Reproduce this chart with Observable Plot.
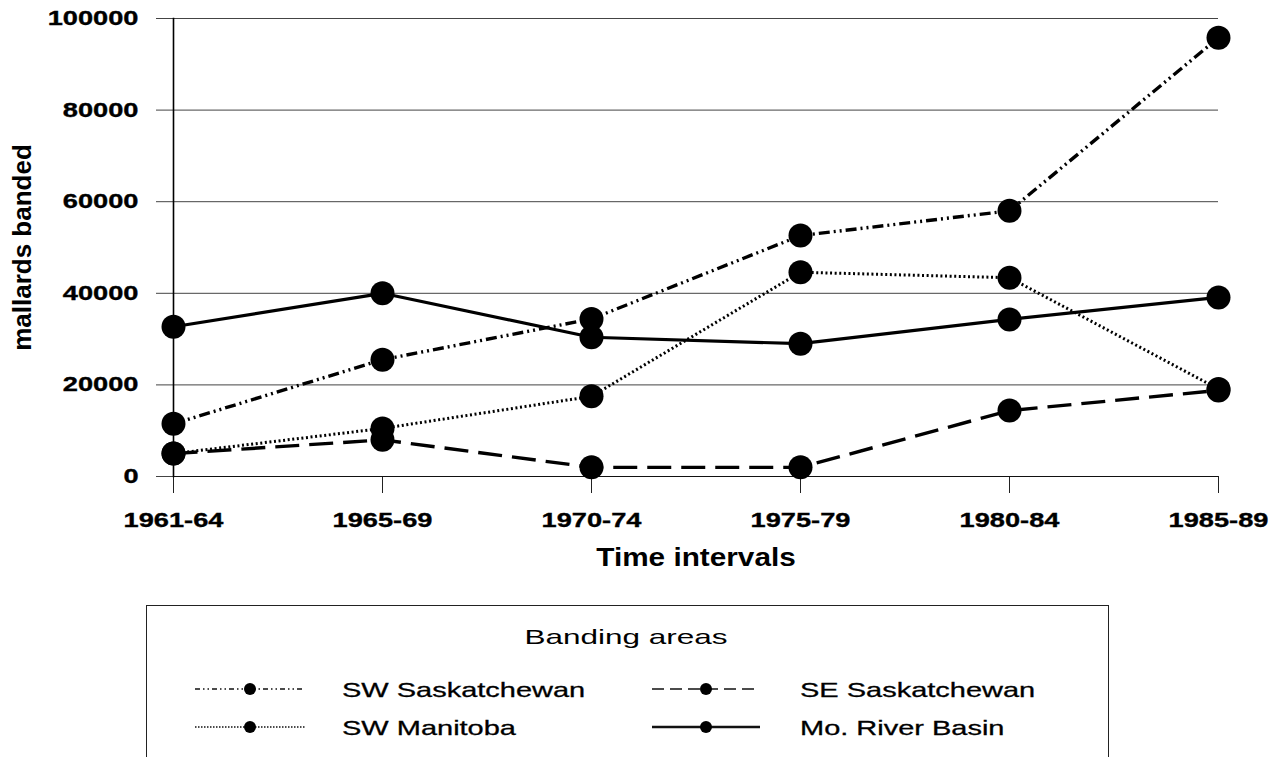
<!DOCTYPE html>
<html>
<head>
<meta charset="utf-8">
<script src="https://cdn.jsdelivr.net/npm/d3@7"></script>
<script src="https://cdn.jsdelivr.net/npm/@observablehq/plot@0.6"></script>
<style>
  html, body { margin: 0; padding: 0; background: #fff; }
  svg { display: block; }
</style>
</head>
<body>
<div id="chart"></div>
<div id="legend"></div>
<script>
// ---- data ----
const periods = ["1961-64", "1965-69", "1970-74", "1975-79", "1980-84", "1985-89"];
const yTicks = [0, 20000, 40000, 60000, 80000, 100000];
const seriesNames = ["SW Saskatchewan", "SE Saskatchewan", "SW Manitoba", "Mo. River Basin"];
const swSaskatchewan = [11500, 25500, 34400, 52600, 58000, 95800];
const seSaskatchewan = [5000, 8000, 2000, 2000, 14400, 18800];
const swManitoba = [5000, 10500, 17500, 44600, 43400, 19100];
const moRiverBasin = [32700, 40000, 30400, 29000, 34300, 39100];
const xTitle = "Time intervals";
const yTitle = "mallards banded";
const legendTitle = "Banding areas";

// ---- styles (kept apart from data) ----
const lineStyle = {
  "SW Saskatchewan": {dash: "11,4,2,4,2,4", width: 3.4},
  "SE Saskatchewan": {dash: "24,10", width: 3.4},
  "SW Manitoba": {dash: "2,2.6", width: 3},
  "Mo. River Basin": {dash: null, width: 3.2}
};
const legendStyle = {
  "SW Saskatchewan": {dash: "5,3,1.5,3,1.5,3", width: 1.6},
  "SE Saskatchewan": {dash: "12,6", width: 1.6},
  "SW Manitoba": {dash: "1.5,1.5", width: 1.6},
  "Mo. River Basin": {dash: null, width: 2.4}
};

const seriesValues = [swSaskatchewan, seSaskatchewan, swManitoba, moRiverBasin];
const table = seriesNames.map((name, s) =>
  periods.map((p, i) => ({series: name, period: p, value: seriesValues[s][i]})));

const lineMarks = table.map((rows, s) => {
  const st = lineStyle[seriesNames[s]];
  return Plot.line(rows, {
    x: "period", y: "value", stroke: "#000", strokeWidth: st.width,
    strokeDasharray: st.dash ?? undefined, strokeLinecap: "butt", strokeLinejoin: "round"
  });
});
const dotMarks = table.map(rows =>
  Plot.dot(rows, {x: "period", y: "value", r: 12, fill: "#000", stroke: "none"}));

const plot = Plot.plot({
  width: 1283,
  height: 600,
  marginLeft: 173,
  marginRight: 65,
  marginTop: 18,
  marginBottom: 124,
  style: {
    fontFamily: "'Liberation Sans', Arial, Helvetica, sans-serif",
    fontSize: "20px",
    fontWeight: "bold",
    color: "#000",
    background: "#fff",
    overflow: "visible"
  },
  x: {type: "point", domain: periods, padding: 0},
  y: {domain: [0, 100000]},
  marks: [
    Plot.gridY(yTicks.filter(d => d > 0), {stroke: "#444", strokeOpacity: 1, strokeWidth: 1}),
    Plot.axisY({ticks: yTicks, tickSize: 17, tickPadding: 18, tickFormat: d3.format("d"),
      label: null, stroke: "#444", strokeOpacity: 1}),
    Plot.axisX({tickSize: 17, tickPadding: 19, label: null, stroke: "#222", strokeOpacity: 1}),
    Plot.ruleY([0], {stroke: "#111", strokeWidth: 1.2}),
    Plot.frame({anchor: "left", stroke: "#000", strokeWidth: 1.6}),
    ...lineMarks,
    ...dotMarks,
    Plot.text([xTitle], {frameAnchor: "bottom", dy: 81, lineAnchor: "middle", textAnchor: "middle",
      fontSize: 25, fontWeight: "bold"}),
    Plot.text([yTitle], {frameAnchor: "left", dx: -151, rotate: -90, textAnchor: "middle",
      lineAnchor: "middle", fontSize: 26, fontWeight: "bold"})
  ]
});
document.getElementById("chart").appendChild(plot);

// stretch horizontal text to match the wide lettering of the reference
plot.querySelectorAll("text").forEach(t => {
  const s = t.textContent.trim();
  if (/^[0-9]/.test(s)) {
    const w = t.getComputedTextLength();
    t.setAttribute("textLength", (w * 1.36).toFixed(1));
    t.setAttribute("lengthAdjust", "spacingAndGlyphs");
    t.setAttribute("stroke", "#000");
    t.setAttribute("stroke-width", "0.35");
  } else if (s === xTitle) {
    const w = t.getComputedTextLength();
    t.setAttribute("textLength", (w * 1.19).toFixed(1));
    t.setAttribute("lengthAdjust", "spacingAndGlyphs");
  }
});

// ---- legend (below the plot) ----
const lg = d3.select("#legend").append("svg")
  .attr("width", 1283).attr("height", 157)
  .style("font-family", "'Liberation Sans', Arial, Helvetica, sans-serif");
lg.append("rect").attr("x", 146.5).attr("y", 5.5).attr("width", 962).attr("height", 220)
  .attr("fill", "none").attr("stroke", "#222").attr("stroke-width", 1);
const title = lg.append("text").attr("x", 626).attr("y", 36).attr("text-anchor", "middle")
  .attr("dominant-baseline", "central").attr("font-size", 21).text(legendTitle);
title.attr("textLength", (title.node().getComputedTextLength() * 1.5).toFixed(1))
  .attr("lengthAdjust", "spacingAndGlyphs");

const slots = [
  {col: 0, row: 0}, {col: 1, row: 0}, {col: 0, row: 1}, {col: 1, row: 1}
];
const colX = [{x0: 195, x1: 305, tx: 342}, {x0: 652, x1: 760, tx: 800}];
const rowY = [89, 127];
seriesNames.forEach((name, i) => {
  const c = colX[slots[i].col], y = rowY[slots[i].row];
  const st = legendStyle[name];
  lg.append("line").attr("x1", c.x0).attr("x2", c.x1).attr("y1", y).attr("y2", y)
    .attr("stroke", "#111").attr("stroke-width", st.width)
    .attr("stroke-dasharray", st.dash);
  lg.append("circle").attr("cx", (c.x0 + c.x1) / 2).attr("cy", y).attr("r", 6).attr("fill", "#000");
  const t = lg.append("text").attr("x", c.tx).attr("y", y).attr("dominant-baseline", "central")
    .attr("font-size", 21).attr("stroke", "#000").attr("stroke-width", 0.3).text(name);
  t.attr("textLength", (t.node().getComputedTextLength() * 1.38).toFixed(1))
    .attr("lengthAdjust", "spacingAndGlyphs");
});
</script>
</body>
</html>
